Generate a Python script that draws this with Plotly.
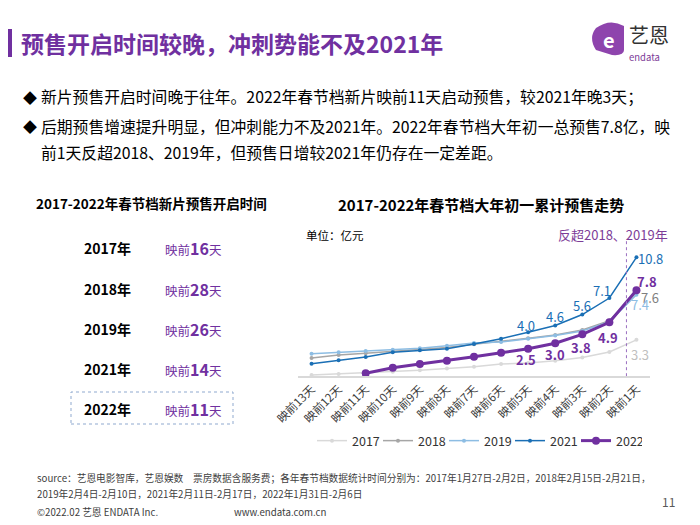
import plotly.graph_objects as go

# page is offset by the browser's 8px body margin, so the figure is a bit
# smaller than the window and every position is given in window pixels
OFF = 8
W, H = 700 - OFF, 525 - OFF
FONT = 'Noto Sans CJK SC, Microsoft YaHei, sans-serif'
PURPLE = '#7030a0'

days = ['映前13天', '映前12天', '映前11天', '映前10天', '映前9天', '映前8天', '映前7天',
        '映前6天', '映前5天', '映前4天', '映前3天', '映前2天', '映前1天']
y2017 = [0.1, 0.2, 0.3, 0.4, 0.55, 0.7, 0.85, 1.1, 1.2, 1.4, 1.7, 2.2, 3.3]
y2018 = [1.65, 1.93, 2.08, 2.25, 2.4, 2.6, 2.9, 3.15, 3.45, 3.75, 4.2, 5.05, 7.6]
y2019 = [2.05, 2.17, 2.29, 2.41, 2.53, 2.77, 3.02, 3.1, 3.4, 3.7, 4.1, 4.95, 7.4]
y2021 = [1.14, 1.44, 1.74, 2.17, 2.35, 2.5, 2.92, 3.4, 4.0, 4.6, 5.6, 7.1, 10.8]
y2022 = [None, None, 0.26, 0.77, 1.11, 1.41, 1.77, 2.13, 2.5, 3.0, 3.8, 4.9, 7.8]

years = ['2017年', '2018年', '2019年', '2021年', '2022年']
start_days = [16, 28, 26, 14, 11]

series = [
    ('2017', y2017, '#d9d9d9', 1.5, 4),
    ('2018', y2018, '#a6a6a6', 1.5, 4),
    ('2019', y2019, '#8dbde3', 1.5, 4),
    ('2021', y2021, '#1a6fb5', 1.5, 4),
    ('2022', y2022, PURPLE, 3, 8),
]

# which points get a value label: (series, index, xshift, yshift, colour, bold)
labels = [
    ('2021', 8, -2, 7, '#1a6fb5', False),
    ('2021', 9, 0, 9, '#1a6fb5', False),
    ('2021', 10, 0, 9, '#1a6fb5', False),
    ('2021', 11, -7, 8, '#1a6fb5', False),
    ('2021', 12, 14, -1, '#1a6fb5', False),
    ('2022', 8, -2, -11, PURPLE, True),
    ('2022', 9, 0, -11, PURPLE, True),
    ('2022', 10, -1, -13, PURPLE, True),
    ('2022', 11, -1, -15, PURPLE, True),
    ('2022', 12, 11, 9, PURPLE, True),
    ('2018', 12, 14, -5, '#7f7f7f', False),
    ('2019', 12, 4, -10, '#8dbde3', False),
    ('2017', 12, 4, -15, '#bfbfbf', False),
]


def px(x):
    return (x - OFF) / W


def py(y):
    return 1 - (y - OFF) / H


def note(x, y, text, size, color, anchor='left'):
    return dict(x=px(x), y=py(y), xref='paper', yref='paper', xanchor=anchor,
                yanchor='middle', text=text, showarrow=False,
                font=dict(size=size, color=color))


fig = go.Figure()
for name, vals, color, lw, ms in series:
    fig.add_trace(go.Scatter(
        x=days, y=vals, name=name, mode='lines+markers',
        line=dict(color=color, width=lw), marker=dict(color=color, size=ms),
        connectgaps=False))

data = {s[0]: s[1] for s in series}
ann = []
for name, i, dx, dy, color, bold in labels:
    v = data[name][i]
    t = '%.1f' % v
    if bold:
        t = '<b>' + t + '</b>'
    ann.append(dict(x=days[i], y=v, xref='x', yref='y', text=t, showarrow=False,
                    xanchor='center', yanchor='middle',
                    xshift=dx, yshift=dy, font=dict(size=13, color=color)))

# header + bullets
ann.append(note(19, 43, '<b>预售开启时间较晚，冲刺势能不及2021年</b>', 23, PURPLE))
bullets = [
    (97, '◆', '新片预售开启时间晚于往年。2022年春节档新片映前11天启动预售，较2021年晚3天；'),
    (126, '◆', '后期预售增速提升明显，但冲刺能力不及2021年。2022年春节档大年初一总预售7.8亿，映'),
    (153, '', '前1天反超2018、2019年，但预售日增较2021年仍存在一定差距。'),
]
for yy, mark, txt in bullets:
    if mark:
        ann.append(note(21, yy, mark, 14, '#000'))
    ann.append(note(39, yy, txt, 15.8, '#000'))

# logo
ann.append(note(627, 35, '艺恩', 20, '#333'))
ann.append(note(627, 57, 'endata', 9.5, '#7d3c98'))
ann.append(note(609, 39, '<b>e</b>', 20, 'white', 'center'))

# left table
ann.append(note(151, 203, '<b>2017-2022年春节档新片预售开启时间</b>', 13.5, '#000', 'center'))
row_y = [248, 289, 329, 369, 409]
for yy, yr, d in zip(row_y, years, start_days):
    ann.append(note(82, yy, '<b>' + yr + '</b>', 14, '#000'))
    ann.append(note(163, yy, '映前<b><span style="font-size:16px">%d</span></b>天' % d, 12.5, PURPLE))

# chart title etc.
ann.append(note(481, 205, '<b>2017-2022年春节档大年初一累计预售走势</b>', 15, '#000', 'center'))
ann.append(note(304, 235, '单位：亿元', 11.5, '#000'))
ann.append(note(613, 235, '反超2018、2019年', 13, '#7d3c98', 'center'))

# footer
foot = [
    (478, 35, 'source：艺恩电影智库，艺恩娱数　票房数据含服务费；各年春节档数据统计时间分别为：2017年1月27日-2月2日，2018年2月15日-2月21日，'),
    (494, 35, '2019年2月4日-2月10日，2021年2月11日-2月17日，2022年1月31日-2月6日'),
    (512, 35, '©2022.02 艺恩 ENDATA Inc.'),
    (512, 232, 'www.endata.com.cn'),
]
for yy, xx, txt in foot:
    ann.append(note(xx, yy, txt, 9.7, '#404040'))
ann.append(note(668, 501, '11', 12, '#595959', 'center'))

shapes = [
    dict(type='rect', xref='paper', yref='paper', x0=px(8), x1=px(12), y0=py(57), y1=py(29),
         fillcolor=PURPLE, line=dict(width=0)),
    dict(type='path', xref='paper', yref='paper', fillcolor='#8e44ad', line=dict(width=0),
         path='M %f %f Q %f %f %f %f L %f %f Q %f %f %f %f L %f %f Q %f %f %f %f Z' % (
             px(596), py(28), px(610), py(18), px(624), py(26),
             px(624), py(50), px(624), py(56), px(612), py(55),
             px(596), py(50), px(588), py(38), px(596), py(28))),
    dict(type='rect', xref='paper', yref='paper', x0=px(71), x1=px(233), y0=py(424), y1=py(392),
         line=dict(color='#8fa9cf', width=1, dash='dot')),
    dict(type='line', xref='x', yref='y', x0=11.63, x1=11.63, y0=0, y1=12.4,
         line=dict(color='#9b6fc0', width=1, dash='dot')),
]

fig.update_layout(
    width=W, height=H, margin=dict(l=0, r=0, t=0, b=0, autoexpand=False),
    paper_bgcolor='white', plot_bgcolor='white',
    font=dict(family=FONT, color='#333'),
    showlegend=True,
    legend=dict(orientation='h', x=px(477), xanchor='center', y=py(441), yanchor='middle',
                font=dict(size=12.5, color='#333'), itemwidth=30, entrywidth=21,
                bgcolor='rgba(0,0,0,0)'),
    xaxis=dict(domain=[px(298), px(650)], type='category', range=[-0.5, 12.5],
               tickangle=-45, automargin=False,
               showgrid=False, showline=True, linecolor='#d9d9d9', linewidth=1.5,
               ticks='', tickfont=dict(size=11.5, color='#404040'), zeroline=False),
    yaxis=dict(domain=[py(376.2), py(237.5)], range=[0, 12.6], visible=False,
               automargin=False, showgrid=False, zeroline=False),
    annotations=ann, shapes=shapes,
)

fig.write_html('out.html')
